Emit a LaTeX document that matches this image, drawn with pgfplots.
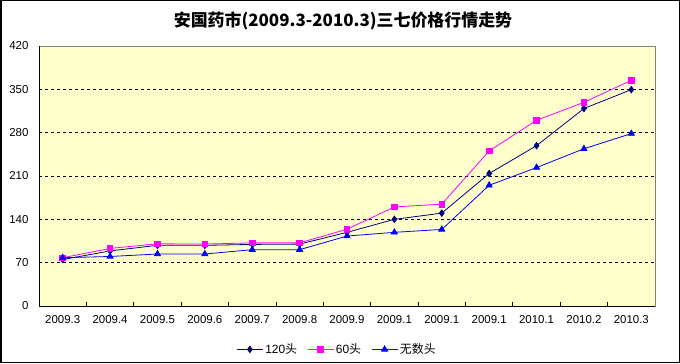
\documentclass[border=0pt]{standalone}
\usepackage{pgfplots}
\pgfplotsset{compat=1.18}
\usepackage{fontspec}
\setmainfont{Liberation Sans}
\newfontfamily\cjk{Noto Sans CJK SC}
\definecolor{bgyellow}{HTML}{FFFFCC}
\definecolor{navyc}{HTML}{000080}
\definecolor{magc}{HTML}{FF00FF}
\definecolor{bluec}{HTML}{0000FF}
\begin{document}
\begin{tikzpicture}[x=1bp,y=1bp]
\useasboundingbox (0,0) rectangle (680,363);
\draw[line width=1.5bp] (0.75,0.75) rectangle (679.25,362.25);
\node[font={\cjk\bfseries\fontsize{17}{19}\selectfont}] at (343,342) {安国药市(2009.3-2010.3)三七价格行情走势};
\begin{axis}[
  at={(39bp,57bp)}, anchor=south west,
  scale only axis, width=616bp, height=260bp,
  xmin=-0.5, xmax=12.5, ymin=0, ymax=420,
  axis background/.style={fill=bgyellow, draw=gray},
  axis x line*=bottom, axis y line*=left,
  axis line style={-, black, line width=1bp},
  xtick={0,...,12},
  xticklabels={2009.3,2009.4,2009.5,2009.6,2009.7,2009.8,2009.9,2009.1,2009.1,2009.1,2010.1,2010.2,2010.3},
  major x tick style={draw=none},
  minor xtick={0.5,1.5,...,11.5},
  minor tick length=4bp,
  tick align=inside,
  minor x tick style={black, line width=0.8bp},
  ytick={0,70,...,420},
  ytick style={draw=none},
  extra y ticks={70,140,210,280,350},
  extra y tick labels={},
  extra y tick style={grid=major, major grid style={black, dash pattern=on 3bp off 3bp, line width=0.8bp}},
  tick label style={font=\fontsize{11.5}{13}\selectfont},
  /pgf/number format/assume math mode=true,
  xticklabel style={yshift=-6bp},
  yticklabel style={xshift=-7bp},
  legend columns=3,
  legend style={at={(axis description cs:0.484,-0.167)}, anchor=center, draw=none, fill=none,
    font=\fontsize{12}{14}\selectfont,
    /tikz/every even column/.append style={column sep=8bp}},
  legend image code/.code={\draw[mark repeat=2,mark phase=2,#1] plot coordinates {(0bp,0bp) (13bp,0bp) (26bp,0bp)};},
]
\addplot[navyc, line width=0.8bp, mark=diamond*, mark size=3.2bp, mark options={solid}] coordinates {
(0,75) (1,89) (2,98) (3,98) (4,99.5) (5,100) (6,119) (7,140) (8,150) (9,214) (10,259) (11,319) (12,349.5)};
\addlegendentry{120{\cjk 头}}
\addplot[magc, line width=0.8bp, mark=square*, mark size=2.8bp] coordinates {
(0,78) (1,93) (2,100.5) (3,100) (4,102) (5,102) (6,124) (7,160) (8,164.5) (9,250.5) (10,300) (11,329) (12,364.5)};
\addlegendentry{60{\cjk 头}}
\addplot[bluec, line width=0.8bp, mark=triangle*, mark size=3.5bp] coordinates {
(0,78) (1,80) (2,84) (3,84) (4,91) (5,91) (6,113) (7,119) (8,123.7) (9,195) (10,223.6) (11,254) (12,278.5)};
\addlegendentry{{\cjk 无数头}}
\end{axis}
\end{tikzpicture}
\end{document}
